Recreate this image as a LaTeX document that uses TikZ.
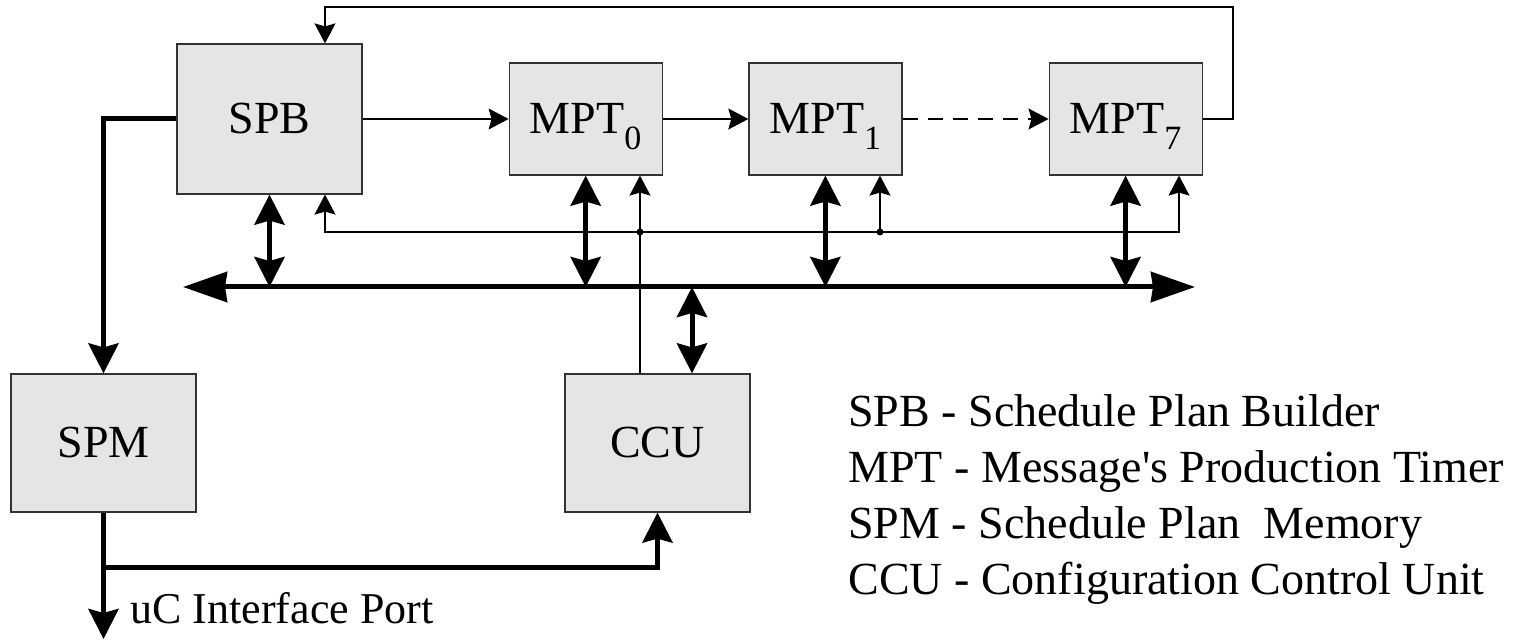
\documentclass[tikz,border=0pt]{standalone}
\usepackage{fontspec}
\setmainfont{Liberation Serif}
\usetikzlibrary{arrows.meta}
\usetikzlibrary{positioning}
\definecolor{boxgray}{RGB}{229,229,229}
\newcommand{\mptsub}[1]{\raisebox{-8pt}{\fontsize{17}{17}\selectfont #1}}
\tikzset{
	block/.style = {
		rectangle,
		draw=black!80,
		fill=boxgray,
		line width=0.6pt,
		inner sep=0pt,
		align=center,
		font=\fontsize{23}{27}\selectfont,
		text height=15pt,
		text depth=0pt
	},
	block_big/.style = {
		block,
		minimum width=92.5pt,
		minimum height=75pt
	},
	block_mpt/.style = {
		block,
		minimum width=76.5pt,
		minimum height=56pt
	},
	block_low/.style = {
		block,
		minimum width=92.5pt,
		minimum height=69pt
	},
	legend/.style = {
		anchor=base west,
		inner sep=0pt,
		font=\fontsize{23}{27}\selectfont
	},
	port_label/.style = {
		legend,
		font=\fontsize{22}{26}\selectfont
	},
	wire/.style = {
		line width=0.6pt
	},
	wire_arrow/.style = {
		wire,
		-{Stealth[length=10pt,width=10.5pt,inset=1.5pt]}
	},
	wire_both/.style = {
		wire,
		{Stealth[length=10pt,width=10.5pt,inset=1.5pt]}-{Stealth[length=10pt,width=10.5pt,inset=1.5pt]}
	},
	wire_dashed/.style = {
		wire_arrow,
		dash pattern=on 7.5pt off 5pt
	},
	bus/.style = {
		line width=2.5pt,
		{Stealth[length=22pt,width=15pt,inset=1pt]}-{Stealth[length=22pt,width=15pt,inset=1pt]}
	},
	bus_link/.style = {
		line width=2.5pt,
		{Stealth[length=15pt,width=15pt,inset=2pt]}-{Stealth[length=15pt,width=15pt,inset=2pt]}
	},
	bus_arrow/.style = {
		line width=2.5pt,
		-{Stealth[length=15pt,width=15pt,inset=2pt]}
	},
	junction/.style = {
		circle,
		fill=black,
		inner sep=0pt,
		minimum size=3.5pt
	}
}

\begin{document}
\begin{tikzpicture}[x=0.5pt, y=-0.5pt]
\useasboundingbox (0,0) rectangle (1522,640);

% blocks
\node [block_big] (spb) at (269.5,119) {SPB};
\node [block_mpt, right=73pt of spb] (mpt0) {MPT\mptsub{0}};
\node [block_mpt, right=42.75pt of mpt0] (mpt1) {MPT\mptsub{1}};
\node [block_mpt, right=73pt of mpt1] (mpt7) {MPT\mptsub{7}};
\node [block_low] (spm) at (103.5,443) {SPM};
\node [block_low] (ccu) at (657.5,443) {CCU};

% legend
\node [legend] (l_spb) at (848,427) {SPB - Schedule Plan Builder};
\node [legend, below=28pt of l_spb.base west, anchor=base west] (l_mpt) {MPT - Message\textquotesingle s Production Timer};
\node [legend, below=28pt of l_mpt.base west, anchor=base west] (l_spm) {SPM - Schedule Plan\ \ Memory};
\node [legend, below=28pt of l_spm.base west, anchor=base west] (l_ccu) {CCU - Configuration Control Unit};

% timer chain
\draw [wire_arrow] (spb.east) -- (mpt0.west);
\draw [wire_arrow] (mpt0.east) -- (mpt1.west);
\draw [wire_dashed] (mpt1.east) -- (mpt7.west);

% feedback and control lines
\coordinate (fb) at (1233,7);
\coordinate (ctl_l) at (325,232);
\coordinate (ctl_r) at (1179,232);
\draw [wire_arrow] (mpt7.east) -| (fb) -| (ctl_l |- spb.north);
\draw [wire_both] (ctl_l |- spb.south) -- (ctl_l) -- (ctl_r) -- (ctl_r |- mpt7.south);
\node [junction] (j0) at (640,232) {};
\node [junction] (j1) at (880,232) {};
\draw [wire_arrow] (j0 |- ccu.north) -- (j0 |- mpt0.south);
\draw [wire_arrow] (j1.center) -- (j1 |- mpt1.south);

% data bus
\coordinate (bus_l) at (183,287);
\coordinate (bus_r) at (1195,287);
\coordinate (ccu_bus) at (692,287);
\draw [bus] (bus_l) -- (bus_r);
\draw [bus_link] (spb.south) -- (spb.south |- bus_l);
\draw [bus_link] (mpt0.south) -- (mpt0.south |- bus_l);
\draw [bus_link] (mpt1.south) -- (mpt1.south |- bus_l);
\draw [bus_link] (mpt7.south) -- (mpt7.south |- bus_l);
\draw [bus_link] (ccu_bus) -- (ccu_bus |- ccu.north);

% memory and port
\coordinate (port) at (103.5,639);
\coordinate (split) at (103.5,568);
\draw [bus_arrow] (spb.west) -| (spm.north);
\draw [bus_arrow] (spm.south) -- (port);
\draw [bus_arrow] (split) -| (ccu.south);
\node [port_label] (port_lbl) at (130,624) {uC Interface Port};
\end{tikzpicture}
\end{document}
